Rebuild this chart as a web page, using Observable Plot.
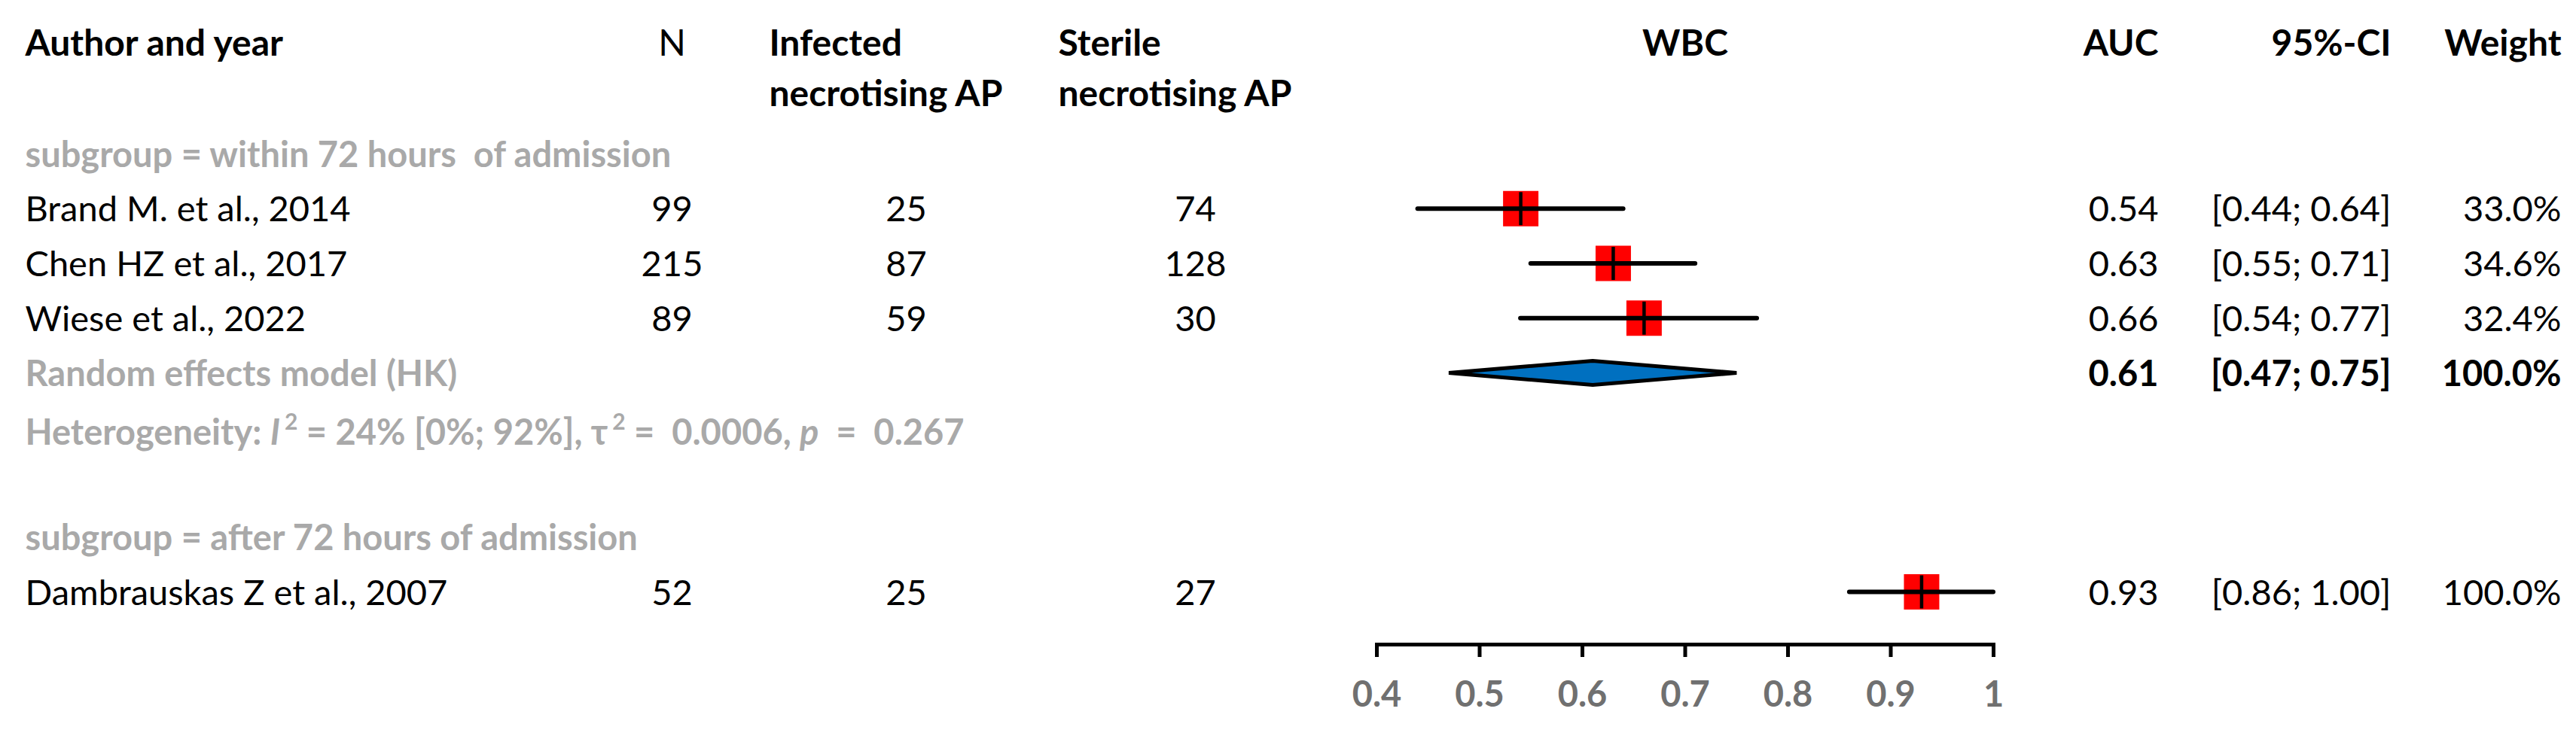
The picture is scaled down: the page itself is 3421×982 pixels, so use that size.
<!DOCTYPE html>
<html><head><meta charset="utf-8">
<script src="https://cdn.jsdelivr.net/npm/d3@7"></script>
<script src="https://cdn.jsdelivr.net/npm/@observablehq/plot@0.6"></script>
<style>
html,body{margin:0;padding:0;background:#fff;}
svg text{white-space:pre;}
</style></head>
<body><div id="chart"></div>
<script>
// ---------------- data ----------------
const authors = ["Brand M. et al., 2014", "Chen HZ et al., 2017", "Wiese et al., 2022", "Dambrauskas Z et al., 2007"];
const nTotal = [99, 215, 89, 52];
const infected = [25, 87, 59, 25];
const sterile = [74, 128, 30, 27];
const auc = [0.54, 0.63, 0.66, 0.93];
const ciLo = [0.44, 0.55, 0.54, 0.86];
const ciHi = [0.64, 0.71, 0.77, 1.00];
const weight = [33.0, 34.6, 32.4, 100.0];
const studyGroup = [0, 0, 0, 1];
const groupLabels = ["subgroup = within 72 hours  of admission", "subgroup = after 72 hours of admission"];
const pooledLabel = "Random effects model (HK)";
const pooledAUC = [0.61];
const pooledLo = [0.47];
const pooledHi = [0.75];
const pooledWeight = [100.0];
const hetI2 = [24], hetI2Lo = [0], hetI2Hi = [92], hetTau2 = ["0.0006"], hetP = ["0.267"];
const xTicks = [0.4, 0.5, 0.6, 0.7, 0.8, 0.9, 1];
const headers = {author: "Author and year", n: "N", inf: ["Infected", "necrotising AP"], ster: ["Sterile", "necrotising AP"],
  plot: "WBC", auc: "AUC", ci: "95%-CI", weight: "Weight"};

// ---------------- layout (pixels) ----------------
const W = 3421, H = 982;
const M = {left: 1828, right: 774, bottom: 126, top: 0};
const col = {author: 33, n: 892, infHead: 1021, inf: 1203, sterHead: 1405, ster: 1587, auc: 2866, ci: 3175, weight: 3401};
const rowRange = [204, 786];
const headerRow = -2;
const FS = 47;
const HFS = 48;
const GRAY = "#a9a9a9";
const TICKGRAY = "#707070";

// ---------------- build rows ----------------
const labelRows = [], studyRows = [], pooledRows = [], hetRows = [];
let r = 0;
groupLabels.forEach((g, gi) => {
  labelRows.push({row: r++, text: g});
  const idx = authors.map((_, i) => i).filter(i => studyGroup[i] === gi);
  idx.forEach(i => studyRows.push({row: r++, author: authors[i], n: nTotal[i], inf: infected[i], ster: sterile[i],
    auc: auc[i], lo: ciLo[i], hi: ciHi[i], w: weight[i]}));
  if (idx.length > 1) {
    pooledRows.push({row: r++, label: pooledLabel, auc: pooledAUC[gi], lo: pooledLo[gi], hi: pooledHi[gi], w: pooledWeight[gi]});
    hetRows.push({row: r++, i2: hetI2[gi], lo: hetI2Lo[gi], hi: hetI2Hi[gi], tau2: hetTau2[gi], p: hetP[gi]});
    r++; // spacer
  }
});
const lastRow = r - 1;
const fmtCI = d => `[${d.lo.toFixed(2)}; ${d.hi.toFixed(2)}]`;
const fmtW = d => `${d.w.toFixed(1)}%`;
const fmtA = d => d.auc.toFixed(2);
const hetText = d => `Heterogeneity: I² = ${d.i2}% [${d.lo}%; ${d.hi}%], τ² =  ${d.tau2}, p  =  ${d.p}`;

const diamondPts = pooledRows.flatMap(p => [
  {x: p.lo, y: p.row, k: p.row}, {x: p.auc, y: p.row - 0.22, k: p.row},
  {x: p.hi, y: p.row, k: p.row}, {x: p.auc, y: p.row + 0.22, k: p.row}]);

const vbar = {draw(ctx, size) { const h = 22; ctx.moveTo(0, -h); ctx.lineTo(0, h); }};

const T = (data, text, x, opts = {}) => Plot.text(data, {
  y: "row", text, frameAnchor: "left", dx: x - M.left, fontSize: FS, lineAnchor: "middle", dy: 2, fill: "black", ...opts});
const H1 = (label, x, opts = {}) => Plot.text([label], {
  y: () => headerRow, text: d => d, frameAnchor: "left", dx: x - M.left, fontSize: HFS, lineAnchor: "middle", dy: 0,
  fontWeight: "bold", fill: "black", textAnchor: "start", ...opts});

const plot = Plot.plot({
  width: W, height: H,
  marginLeft: M.left, marginRight: M.right, marginBottom: M.bottom, marginTop: M.top,
  style: {fontFamily: "Lato, 'Open Sans', sans-serif", background: "white", overflow: "visible"},
  x: {domain: [0.4, 1]},
  y: {type: "linear", domain: [0, lastRow], range: rowRange, axis: null},
  marks: [
    // headers
    H1(headers.author, col.author),
    H1(headers.n, col.n, {textAnchor: "middle", fontWeight: "normal"}),
    H1(headers.inf[0], col.infHead),
    H1(headers.inf[1], col.infHead, {dy: 67}),
    H1(headers.ster[0], col.sterHead),
    H1(headers.ster[1], col.sterHead, {dy: 67}),
    Plot.text([headers.plot], {y: () => headerRow, text: d => d, frameAnchor: "middle", fontSize: HFS, fontWeight: "bold", fill: "black"}),
    H1(headers.auc, col.auc, {textAnchor: "end"}),
    H1(headers.ci, col.ci, {textAnchor: "end"}),
    H1(headers.weight, col.weight, {textAnchor: "end"}),
    // subgroup labels
    T(labelRows, "text", col.author, {fill: GRAY, fontWeight: "bold", textAnchor: "start"}),
    // studies
    T(studyRows, "author", col.author, {textAnchor: "start"}),
    T(studyRows, "n", col.n, {textAnchor: "middle"}),
    T(studyRows, "inf", col.inf, {textAnchor: "middle"}),
    T(studyRows, "ster", col.ster, {textAnchor: "middle"}),
    T(studyRows, fmtA, col.auc, {textAnchor: "end"}),
    T(studyRows, fmtCI, col.ci, {textAnchor: "end"}),
    T(studyRows, fmtW, col.weight, {textAnchor: "end"}),
    // pooled
    T(pooledRows, "label", col.author, {fill: GRAY, fontWeight: "bold", textAnchor: "start"}),
    T(pooledRows, fmtA, col.auc, {textAnchor: "end", fontWeight: "bold"}),
    T(pooledRows, fmtCI, col.ci, {textAnchor: "end", fontWeight: "bold"}),
    T(pooledRows, fmtW, col.weight, {textAnchor: "end", fontWeight: "bold"}),
    T(hetRows, hetText, col.author, {fill: GRAY, fontWeight: "bold", textAnchor: "start", dy: 8}),
    // forest marks
    Plot.dot(studyRows, {x: "auc", y: "row", symbol: "square", r: 26.5, fill: "#ff0000", stroke: "none"}),
    Plot.ruleY(studyRows, {y: "row", x1: "lo", x2: "hi", stroke: "black", strokeWidth: 6, strokeLinecap: "round"}),
    Plot.dot(studyRows, {x: "auc", y: "row", symbol: vbar, r: 10, fill: "none", stroke: "black", strokeWidth: 4.5}),
    Plot.line(diamondPts, {x: "x", y: "y", z: "k", curve: "linear-closed", fill: "#0070c0", stroke: "black", strokeWidth: 5, strokeLinejoin: "miter"}),
    // axis
    Plot.frame({anchor: "bottom", stroke: "black", strokeWidth: 5}),
    Plot.axisX({ticks: xTicks, tickFormat: d => `${d}`, tickSize: 17, tickPadding: 32, stroke: "black", strokeWidth: 5,
      fill: TICKGRAY, fontSize: FS, fontWeight: "bold", label: null})
  ]
});

// rich text for heterogeneity line (italic symbols and superscripts)
d3.select(plot).selectAll("text").filter(function() { return this.textContent.startsWith("Heterogeneity"); })
  .each(function(_, i) {
    const d = hetRows[i] || hetRows[0];
    const t = d3.select(this); t.text("");
    const parts = [
      ["Heterogeneity: "], ["I", "it"], ["2", "sup"], [` = ${d.i2}% [${d.lo}%; ${d.hi}%], τ`], ["2", "sup"],
      [` =  ${d.tau2}, `], ["p", "it"], [`  =  ${d.p}`]];
    let raised = false;
    parts.forEach(([s, kind]) => {
      const sp = t.append("tspan").text(s);
      if (kind === "it") sp.attr("font-style", "italic");
      if (kind === "sup") { sp.attr("font-size", 30).attr("dy", -20).attr("dx", 6); raised = true; }
      else if (raised) { sp.attr("dy", 20); raised = false; }
    });
  });

document.getElementById("chart").appendChild(plot);
</script>
</body></html>
